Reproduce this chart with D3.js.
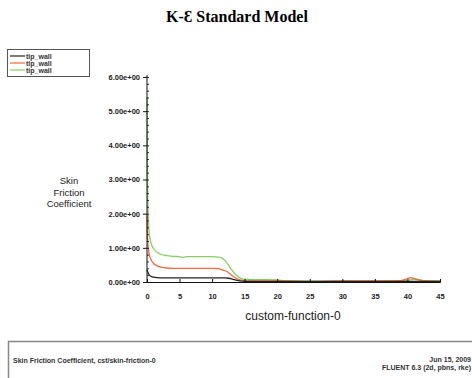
<!DOCTYPE html>
<html>
<head>
<meta charset="utf-8">
<script src="https://cdn.jsdelivr.net/npm/d3@7"></script>
<style>
  html, body { margin: 0; padding: 0; background: #fff; }
  svg { display: block; }
</style>
</head>
<body>
<svg id="chart" width="472" height="378"></svg>
<script>
// Skin friction coefficient along the wall, three surfaces
const seriesNames = ["tip_wall", "tip_wall", "tip_wall"];
const seriesColors = ["#222222", "#f26b3a", "#86cf66"];

const blackX = [0, 0.1, 0.3, 0.6, 1, 1.5, 2, 4, 8, 12, 12.5, 13, 13.5, 14, 15, 20, 30, 40, 45];
const blackY = [0.35, 0.3, 0.22, 0.17, 0.14, 0.13, 0.12, 0.12, 0.12, 0.12, 0.11, 0.09, 0.06, 0.04, 0.02, 0.02, 0.02, 0.02, 0.02];

const orangeX = [0, 0.05, 0.15, 0.3, 0.6, 1, 1.5, 2, 3, 4, 6, 8, 10, 11, 11.5, 12, 12.5, 13, 13.5, 14, 15, 16, 20, 25, 30, 35, 39, 40, 40.5, 41, 42, 43, 45];
const orangeY = [1.95, 1.5, 1.1, 0.85, 0.66, 0.55, 0.48, 0.44, 0.41, 0.4, 0.4, 0.4, 0.4, 0.39, 0.36, 0.33, 0.28, 0.2, 0.13, 0.08, 0.04, 0.03, 0.03, 0.02, 0.03, 0.03, 0.04, 0.1, 0.13, 0.1, 0.05, 0.03, 0.02];

const greenX = [0, 0.05, 0.15, 0.3, 0.6, 1, 1.5, 2, 3, 4, 5, 5.5, 6, 7, 8, 9, 10, 11, 11.5, 12, 12.5, 13, 13.5, 14, 14.5, 15, 16, 18, 20, 21, 22, 25, 30, 35, 39, 40, 41, 42, 43, 45];
const greenY = [5.4, 3.5, 2.2, 1.5, 1.15, 0.98, 0.88, 0.82, 0.77, 0.75, 0.74, 0.72, 0.74, 0.74, 0.74, 0.74, 0.74, 0.73, 0.7, 0.62, 0.5, 0.36, 0.24, 0.15, 0.1, 0.08, 0.07, 0.07, 0.06, 0.04, 0.03, 0.02, 0.02, 0.02, 0.03, 0.05, 0.08, 0.06, 0.03, 0.03];

const xTicks = [0, 5, 10, 15, 20, 25, 30, 35, 40, 45];
const yTicks = [0, 1, 2, 3, 4, 5, 6];
const yTickLabels = ["0.00e+00", "1.00e+00", "2.00e+00", "3.00e+00", "4.00e+00", "5.00e+00", "6.00e+00"];

const titleText = "K-\u0190 Standard Model";
const yLabelLines = ["Skin", "Friction", "Coefficient"];
const xLabelText = "custom-function-0";
const footerLeft = "Skin Friction Coefficient, cst/skin-friction-0";
const footerRight = ["Jun 15, 2009", "FLUENT 6.3 (2d, pbns, rke)"];

const sans = "'Liberation Sans', Arial, sans-serif";
const svg = d3.select("#chart");

const x = d3.scaleLinear().domain([0, 45]).range([147, 440]);
const y = d3.scaleLinear().domain([0, 6]).range([282, 77]);

// title
svg.append("text")
  .attr("x", 237).attr("y", 22)
  .attr("text-anchor", "middle")
  .attr("font-family", "'Liberation Serif', 'DejaVu Serif', serif")
  .attr("font-weight", "bold")
  .attr("font-size", 16)
  .text(titleText);

// curves
const series = [
  { xs: blackX, ys: blackY, color: seriesColors[0] },
  { xs: orangeX, ys: orangeY, color: seriesColors[1] },
  { xs: greenX, ys: greenY, color: seriesColors[2] }
];
const line = d3.line().x(d => x(d[0])).y(d => y(d[1])).curve(d3.curveMonotoneX);
[series[2], series[1], series[0]].forEach(s => {
  svg.append("path")
    .datum(s.xs.map((v, i) => [v, s.ys[i]]))
    .attr("fill", "none")
    .attr("stroke", s.color)
    .attr("stroke-width", 1.3)
    .attr("d", line);
});

// y axis: minor ticks point inward, major ticks outward
const yMinor = d3.range(0, 6.001, 0.2);
svg.append("g")
  .attr("transform", "translate(147,0)")
  .call(d3.axisRight(y).tickValues(yMinor).tickSize(2).tickFormat(""))
  .call(g => g.select(".domain").remove())
  .selectAll("line").attr("stroke", "#333");
const yAx = svg.append("g")
  .attr("transform", "translate(147,0)")
  .call(d3.axisLeft(y).tickValues(yTicks).tickSize(4).tickPadding(3)
    .tickFormat((d, i) => yTickLabels[i]));
yAx.select(".domain").attr("stroke", "#111").attr("d", "M0," + y(0) + "V75");
yAx.selectAll("line").attr("stroke", "#111");
yAx.selectAll("text")
  .attr("font-family", sans)
  .attr("font-size", 7.5).attr("font-weight", "bold").attr("fill", "#222");

// x axis, ticks pointing up into the plot
const xAx = svg.append("g")
  .attr("transform", "translate(0," + y(0) + ")")
  .call(d3.axisBottom(x).tickValues(xTicks).tickSize(-3).tickPadding(12));
xAx.select(".domain").attr("stroke", "#111");
xAx.selectAll("line").attr("stroke", "#111");
xAx.selectAll("text")
  .attr("font-family", sans)
  .attr("font-size", 7.5).attr("font-weight", "bold").attr("fill", "#222");

// axis titles
const yl = svg.append("text")
  .attr("text-anchor", "middle")
  .attr("font-family", sans)
  .attr("font-size", 9.5).attr("fill", "#222");
yLabelLines.forEach((t, i) => {
  yl.append("tspan").attr("x", 69).attr("y", 184 + i * 11.5).text(t);
});
svg.append("text")
  .attr("x", 293).attr("y", 320)
  .attr("text-anchor", "middle")
  .attr("font-family", sans)
  .attr("font-size", 12).attr("fill", "#222")
  .text(xLabelText);

// legend
const lg = svg.append("g");
lg.append("rect")
  .attr("x", 7.5).attr("y", 49.5).attr("width", 82).attr("height", 27)
  .attr("fill", "#fff").attr("stroke", "#555").attr("stroke-width", 1);
seriesNames.forEach((n, i) => {
  const yy = 56 + i * 7;
  lg.append("line")
    .attr("x1", 10).attr("x2", 25).attr("y1", yy).attr("y2", yy)
    .attr("stroke", seriesColors[i]).attr("stroke-width", 1.2);
  lg.append("text")
    .attr("x", 26).attr("y", yy + 2.5)
    .attr("font-family", sans)
    .attr("font-size", 7).attr("font-weight", "bold").attr("fill", "#333")
    .text(n);
});

// footer panel
svg.append("path")
  .attr("d", "M8.5,378V341.5H472")
  .attr("fill", "none").attr("stroke", "#888").attr("stroke-width", 1.5);
svg.append("text")
  .attr("x", 13).attr("y", 363)
  .attr("font-family", sans)
  .attr("font-size", 7).attr("font-weight", "bold").attr("fill", "#333")
  .text(footerLeft);
footerRight.forEach((t, i) => {
  svg.append("text")
    .attr("x", 471).attr("y", 362 + i * 8)
    .attr("text-anchor", "end")
    .attr("font-family", sans)
    .attr("font-size", 7).attr("font-weight", "bold").attr("fill", "#333")
    .text(t);
});
</script>
</body>
</html>
